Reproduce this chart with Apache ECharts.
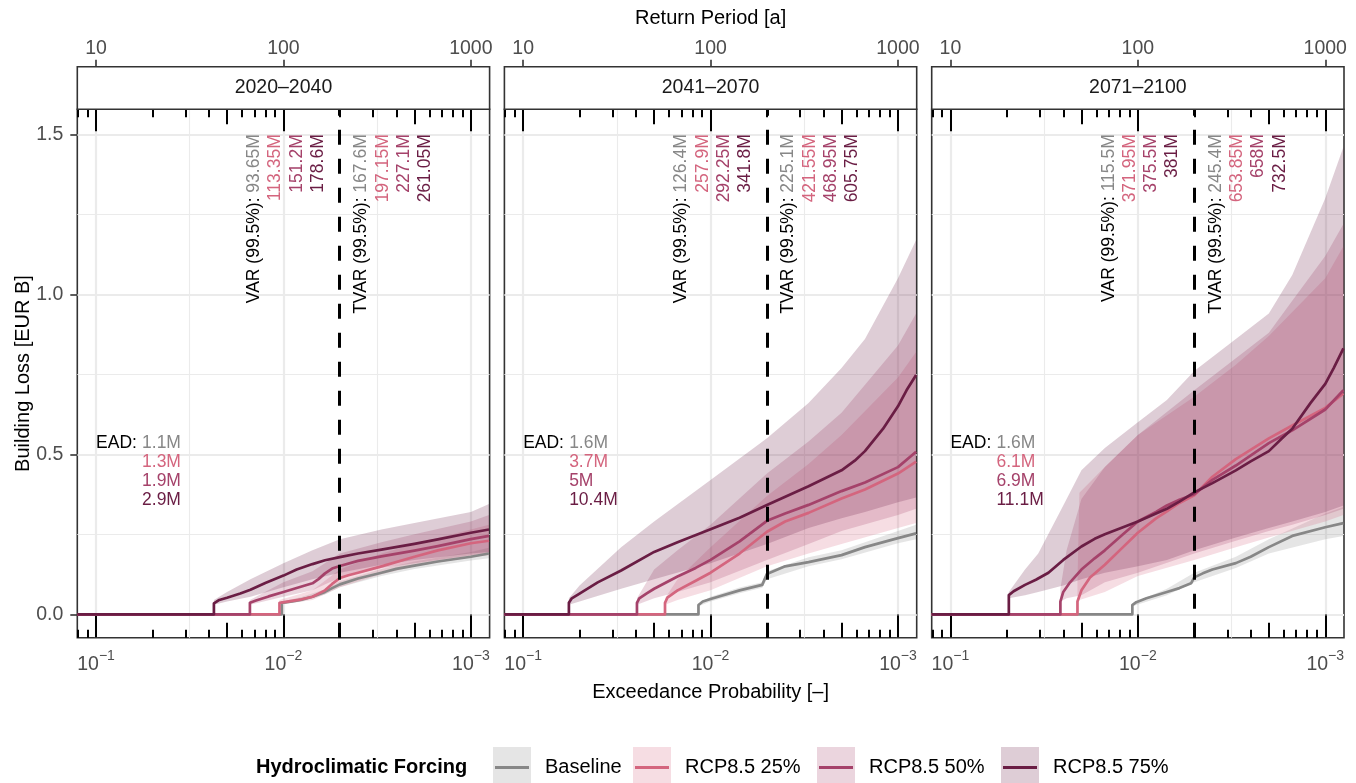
<!DOCTYPE html>
<html>
<head>
<meta charset="utf-8">
<title>Building loss exceedance curves</title>
<script src="https://cdn.jsdelivr.net/npm/echarts@6/dist/echarts.min.js"></script>
<style>
  html, body { margin: 0; padding: 0; background: #ffffff; }
  #chart { width: 1356px; height: 783px; }
</style>
</head>
<body>
<div id="chart"></div>
<script>
// ---------------- data ----------------
const periods = ['2020–2040', '2041–2070', '2071–2100'];
const scenarios = ['Baseline', 'RCP8.5 25%', 'RCP8.5 50%', 'RCP8.5 75%'];

// tick positions
const probTicks = [0.1, 0.01, 0.001];            // exceedance probability labels
const returnPeriodTicks = [10, 100, 1000];        // return period labels [a]
const logTicksMajor = [10, 100, 1000];
const logTicksMid = [50, 500];
const logTicksMinor = [8, 9, 20, 30, 40, 60, 70, 80, 90, 200, 300, 400, 600, 700, 800, 900];
const lossTicks = [0, 0.5, 1.0, 1.5];
const lossMinor = [0.25, 0.75, 1.25];
const probMinor = [0.0316228, 0.00316228];
const varProb = 0.005;                            // 99.5% level

// summary statistics [million EUR], order: Baseline, 25%, 50%, 75%
const eadVals = [[1.1, 1.3, 1.9, 2.9], [1.6, 3.7, 5, 10.4], [1.6, 6.1, 6.9, 11.1]];
const varVals = [[93.65, 113.35, 151.2, 178.6], [126.4, 257.9, 292.25, 341.8], [115.5, 371.95, 375.5, 381]];
const tvarVals = [[167.6, 197.15, 227.1, 261.05], [225.1, 421.55, 468.95, 605.75], [245.4, 653.85, 658, 732.5]];

// loss curves [exceedance probability, loss in EUR B]
const lossA_base = [[0.126,0],[0.0102,0],[0.0102,0.036],[0.009,0.04],[0.008,0.046],[0.007,0.055],[0.006,0.07],[0.0055,0.082],[0.005,0.09365],[0.004,0.112],[0.003,0.13],[0.0025,0.142],[0.002,0.152],[0.0015,0.165],[0.001,0.18],[0.0008,0.19]];
const lossA_r25 = [[0.126,0],[0.0105,0],[0.0105,0.036],[0.009,0.042],[0.008,0.047],[0.007,0.055],[0.006,0.075],[0.0055,0.095],[0.005,0.11335],[0.0045,0.122],[0.004,0.13],[0.003,0.15],[0.002,0.18],[0.0015,0.2],[0.001,0.222],[0.0008,0.23]];
const lossA_r50 = [[0.126,0],[0.0151,0],[0.0151,0.036],[0.014,0.043],[0.012,0.056],[0.01,0.07],[0.008,0.087],[0.007,0.097],[0.0065,0.11],[0.006,0.128],[0.0055,0.143],[0.005,0.1512],[0.004,0.167],[0.003,0.181],[0.002,0.199],[0.0015,0.213],[0.001,0.235],[0.0008,0.245]];
const lossA_r75 = [[0.126,0],[0.0235,0],[0.0235,0.034],[0.022,0.045],[0.02,0.052],[0.017,0.065],[0.015,0.077],[0.0125,0.098],[0.01,0.121],[0.0085,0.14],[0.007,0.157],[0.006,0.169],[0.005,0.1786],[0.004,0.19],[0.003,0.202],[0.002,0.22],[0.0015,0.234],[0.001,0.255],[0.0008,0.265]];

const lossB_base = [[0.126,0],[0.0116,0],[0.0116,0.029],[0.011,0.04],[0.01,0.048],[0.007,0.075],[0.0053,0.092],[0.005,0.1264],[0.004,0.15],[0.003,0.163],[0.002,0.185],[0.0015,0.21],[0.001,0.238],[0.0008,0.253]];
const lossB_r25 = [[0.126,0],[0.0175,0],[0.0175,0.036],[0.017,0.052],[0.015,0.075],[0.012,0.105],[0.01,0.13],[0.007,0.19],[0.005,0.2579],[0.004,0.29],[0.003,0.317],[0.002,0.362],[0.0015,0.39],[0.001,0.44],[0.0008,0.477]];
const lossB_r50 = [[0.126,0],[0.0247,0],[0.0247,0.036],[0.024,0.05],[0.022,0.065],[0.02,0.08],[0.015,0.118],[0.012,0.145],[0.01,0.17],[0.007,0.228],[0.005,0.29225],[0.004,0.315],[0.003,0.342],[0.002,0.385],[0.0015,0.412],[0.001,0.46],[0.0008,0.508]];
const lossB_r75 = [[0.126,0],[0.057,0],[0.057,0.036],[0.055,0.05],[0.05,0.065],[0.04,0.1],[0.03,0.137],[0.02,0.195],[0.015,0.225],[0.01,0.266],[0.007,0.302],[0.005,0.3418],[0.003,0.4],[0.002,0.45],[0.0017,0.48],[0.0015,0.51],[0.0012,0.58],[0.001,0.65],[0.0009,0.7],[0.0008,0.748]];

const lossC_base = [[0.126,0],[0.0107,0],[0.0107,0.029],[0.0102,0.038],[0.009,0.05],[0.007,0.07],[0.006,0.082],[0.0052,0.097],[0.005,0.1155],[0.0045,0.128],[0.004,0.14],[0.003,0.16],[0.0025,0.18],[0.002,0.21],[0.0015,0.245],[0.001,0.272],[0.0008,0.285]];
const lossC_r25 = [[0.126,0],[0.021,0],[0.021,0.04],[0.02,0.075],[0.018,0.115],[0.015,0.155],[0.012,0.21],[0.01,0.255],[0.008,0.3],[0.007,0.322],[0.006,0.348],[0.005,0.37195],[0.004,0.43],[0.003,0.485],[0.002,0.55],[0.0015,0.59],[0.001,0.645],[0.0008,0.69]];
const lossC_r50 = [[0.126,0],[0.0259,0],[0.0259,0.04],[0.025,0.07],[0.023,0.1],[0.02,0.14],[0.017,0.175],[0.015,0.2],[0.012,0.25],[0.01,0.29],[0.008,0.32],[0.007,0.34],[0.006,0.358],[0.005,0.3755],[0.004,0.42],[0.003,0.465],[0.002,0.535],[0.0015,0.575],[0.001,0.64],[0.0008,0.7]];
const lossC_r75 = [[0.126,0],[0.0488,0],[0.0488,0.06],[0.046,0.072],[0.04,0.092],[0.035,0.108],[0.03,0.13],[0.025,0.17],[0.02,0.212],[0.017,0.236],[0.015,0.25],[0.012,0.272],[0.01,0.29],[0.008,0.315],[0.007,0.33],[0.006,0.352],[0.005,0.381],[0.004,0.41],[0.003,0.45],[0.0025,0.478],[0.002,0.51],[0.0017,0.55],[0.0015,0.58],[0.0012,0.66],[0.001,0.72],[0.0009,0.77],[0.0008,0.831]];

// uncertainty bands [exceedance probability, lower, upper]
const bandA_base = [[0.0102,0.032,0.04],[0.008,0.04,0.054],[0.006,0.062,0.078],[0.005,0.085,0.103],[0.003,0.12,0.142],[0.002,0.142,0.165],[0.001,0.168,0.195],[0.0008,0.175,0.208]];
const bandA_r25 = [[0.0105,0.03,0.045],[0.007,0.045,0.075],[0.005,0.085,0.14],[0.003,0.125,0.19],[0.002,0.15,0.22],[0.001,0.178,0.265],[0.0008,0.185,0.28]];
const bandA_r50 = [[0.0151,0.03,0.045],[0.01,0.055,0.1],[0.007,0.075,0.135],[0.005,0.115,0.19],[0.003,0.145,0.225],[0.002,0.16,0.25],[0.001,0.185,0.29],[0.0008,0.19,0.31]];
const bandA_r75 = [[0.0235,0.03,0.045],[0.02,0.04,0.07],[0.015,0.055,0.11],[0.01,0.085,0.16],[0.007,0.11,0.2],[0.005,0.13,0.235],[0.003,0.155,0.265],[0.002,0.17,0.285],[0.001,0.19,0.32],[0.0008,0.195,0.345]];

const bandB_base = [[0.0116,0.025,0.033],[0.01,0.04,0.055],[0.007,0.066,0.084],[0.0053,0.083,0.1],[0.005,0.11,0.135],[0.003,0.15,0.178],[0.002,0.172,0.2],[0.001,0.222,0.26],[0.0008,0.235,0.28]];
const bandB_r25 = [[0.0175,0.03,0.05],[0.015,0.045,0.11],[0.01,0.075,0.21],[0.005,0.15,0.37],[0.003,0.19,0.47],[0.002,0.22,0.56],[0.001,0.27,0.74],[0.0008,0.285,0.82]];
const bandB_r50 = [[0.0247,0.03,0.05],[0.02,0.05,0.14],[0.015,0.07,0.2],[0.01,0.1,0.28],[0.005,0.17,0.44],[0.003,0.22,0.54],[0.002,0.26,0.63],[0.001,0.31,0.84],[0.0008,0.33,0.94]];
const bandB_r75 = [[0.057,0.03,0.05],[0.05,0.04,0.09],[0.03,0.08,0.21],[0.02,0.11,0.29],[0.01,0.16,0.42],[0.005,0.22,0.55],[0.003,0.27,0.66],[0.002,0.3,0.77],[0.0015,0.32,0.86],[0.001,0.35,1.05],[0.0008,0.365,1.17]];

const bandC_base = [[0.0107,0.025,0.035],[0.007,0.06,0.08],[0.005,0.1,0.13],[0.003,0.145,0.18],[0.002,0.19,0.235],[0.001,0.235,0.315],[0.0008,0.245,0.335]];
const bandC_r25 = [[0.021,0.04,0.1],[0.0205,0.045,0.38],[0.015,0.07,0.46],[0.01,0.12,0.56],[0.005,0.17,0.68],[0.003,0.21,0.78],[0.002,0.24,0.87],[0.001,0.29,1.05],[0.0008,0.31,1.15]];
const bandC_r50 = [[0.0259,0.04,0.08],[0.024,0.05,0.2],[0.02,0.06,0.36],[0.015,0.1,0.46],[0.01,0.13,0.56],[0.005,0.19,0.7],[0.003,0.23,0.8],[0.002,0.26,0.88],[0.0015,0.28,0.98],[0.001,0.31,1.12],[0.0008,0.33,1.22]];
const bandC_r75 = [[0.0488,0.05,0.07],[0.04,0.06,0.14],[0.034,0.07,0.19],[0.025,0.09,0.34],[0.02,0.11,0.45],[0.015,0.13,0.52],[0.01,0.15,0.6],[0.007,0.17,0.67],[0.005,0.2,0.76],[0.003,0.24,0.86],[0.002,0.27,0.94],[0.0015,0.29,1.06],[0.001,0.32,1.3],[0.0008,0.34,1.46]];

const panelLines = [
  [lossA_base, lossA_r25, lossA_r50, lossA_r75],
  [lossB_base, lossB_r25, lossB_r50, lossB_r75],
  [lossC_base, lossC_r25, lossC_r50, lossC_r75]
];
const panelBands = [
  [bandA_base, bandA_r25, bandA_r50, bandA_r75],
  [bandB_base, bandB_r25, bandB_r50, bandB_r75],
  [bandC_base, bandC_r25, bandC_r50, bandC_r75]
];

// ---------------- styling / layout ----------------
const lineColors = ['#878787', '#D4657E', '#A5426A', '#6A1D44'];
const bandColors = ['rgba(135,135,135,0.22)', 'rgba(212,101,126,0.22)', 'rgba(165,66,106,0.22)', 'rgba(106,29,68,0.22)'];
const FONT = '"Liberation Sans", Arial, Helvetica, sans-serif';
const GRID_LEFT = [77.3, 504.4, 931.7];
const GRID_TOP = 109.3, GRID_W = 412.3, GRID_H = 528.4, STRIP_H = 42.6;
const X_MIN = 0.9, X_MAX = 3.1;      // -log10(probability)
const Y_MIN = -0.073, Y_MAX = 1.578;
const X_PER_GRID = 9, Y_PER_GRID = 2;

const toX = p => -Math.log10(p);
const fromPeriod = T => toX(1 / T);

const chart = echarts.init(document.getElementById('chart'), null, { renderer: 'canvas' });

const grids = GRID_LEFT.map(l => ({
  left: l, top: GRID_TOP, width: GRID_W, height: GRID_H,
  show: true, borderColor: '#333333', borderWidth: 1.6, backgroundColor: 'transparent',
  containLabel: false, outerBoundsMode: 'none'
}));

const xAxes = [], yAxes = [];
const tickLine = { color: '#333333', width: 1.6 };
const logLine = { color: '#000000', width: 2 };

GRID_LEFT.forEach((_, i) => {
  const common = {
    gridIndex: i, type: 'value', min: X_MIN, max: X_MAX, silent: true,
    axisLine: { show: false }, axisLabel: { show: false },
    axisTick: { show: false }, splitLine: { show: false }
  };
  // bottom: probability labels, outer ticks, major vertical grid
  xAxes.push(Object.assign({}, common, {
    position: 'bottom',
    axisTick: { show: true, inside: false, length: 7, customValues: probTicks.map(toX), lineStyle: tickLine },
    axisLabel: {
      show: true, customValues: probTicks.map(toX), margin: 11,
      formatter: v => '{b|10}{s|−' + Math.round(v) + '}',
      rich: {
        b: { fontSize: 19.5, color: '#4D4D4D', fontFamily: FONT, lineHeight: 26, verticalAlign: 'bottom' },
        s: { fontSize: 14, color: '#4D4D4D', fontFamily: FONT, lineHeight: 26, verticalAlign: 'top' }
      }
    },
    splitLine: { show: true, lineStyle: { color: '#EBEBEB', width: 2.2 } }
  }));
  // minor vertical grid
  xAxes.push(Object.assign({}, common, {
    position: 'bottom',
    axisTick: { show: false, customValues: probMinor.map(toX) },
    splitLine: { show: true, lineStyle: { color: '#EBEBEB', width: 1.1 } }
  }));
  // bottom log ticks (inside)
  [[logTicksMajor, 22], [logTicksMid, 15], [logTicksMinor, 8]].forEach(([vals, len]) => {
    xAxes.push(Object.assign({}, common, {
      position: 'bottom',
      axisTick: { show: true, inside: true, length: len, customValues: vals.map(fromPeriod), lineStyle: logLine }
    }));
  });
  // top: return period labels above the strip
  xAxes.push(Object.assign({}, common, {
    position: 'top', offset: STRIP_H,
    axisTick: { show: true, inside: false, length: 7, customValues: returnPeriodTicks.map(fromPeriod), lineStyle: tickLine },
    axisLabel: {
      show: true, customValues: returnPeriodTicks.map(fromPeriod), margin: 8,
      formatter: v => String(returnPeriodTicks[Math.round(v) - 1]),
      color: '#4D4D4D', fontSize: 19.5, fontFamily: FONT
    }
  }));
  // top log ticks (inside)
  [[logTicksMajor, 22], [logTicksMid, 15], [logTicksMinor, 8]].forEach(([vals, len]) => {
    xAxes.push(Object.assign({}, common, {
      position: 'top',
      axisTick: { show: true, inside: true, length: len, customValues: vals.map(fromPeriod), lineStyle: logLine }
    }));
  });

  yAxes.push({
    gridIndex: i, type: 'value', min: Y_MIN, max: Y_MAX, position: 'left', silent: true,
    axisLine: { show: false },
    axisTick: { show: i === 0, inside: false, length: 7, customValues: lossTicks, lineStyle: tickLine },
    axisLabel: {
      show: i === 0, customValues: lossTicks, margin: 14,
      formatter: v => v.toFixed(1), color: '#4D4D4D', fontSize: 19.5, fontFamily: FONT
    },
    splitLine: { show: true, lineStyle: { color: '#EBEBEB', width: 2.2 } }
  });
  yAxes.push({
    gridIndex: i, type: 'value', min: Y_MIN, max: Y_MAX, position: 'left', silent: true,
    axisLine: { show: false }, axisLabel: { show: false },
    axisTick: { show: false, customValues: lossMinor },
    splitLine: { show: true, lineStyle: { color: '#EBEBEB', width: 1.1 } }
  });
});

// ribbon drawn as one polygon through the cartesian coordinate system
function ribbonSeries(xi, yi, band, color) {
  const rows = band.map(r => [toX(r[0]), r[1], r[2]]);
  return {
    type: 'custom', coordinateSystem: 'cartesian2d', xAxisIndex: xi, yAxisIndex: yi,
    data: rows, silent: true, clip: true, z: 2,
    renderItem: (params, api) => {
      if (params.dataIndex !== 0) return null;
      const pts = [];
      rows.forEach(r => pts.push(api.coord([r[0], r[1]])));
      for (let k = rows.length - 1; k >= 0; k--) pts.push(api.coord([rows[k][0], rows[k][2]]));
      return { type: 'polygon', shape: { points: pts }, style: { fill: color, stroke: null } };
    }
  };
}

const series = [];
GRID_LEFT.forEach((_, i) => {
  const xi = i * X_PER_GRID, yi = i * Y_PER_GRID;
  panelBands[i].forEach((b, s) => series.push(ribbonSeries(xi, yi, b, bandColors[s])));
  panelLines[i].forEach((l, s) => {
    const ser = {
      type: 'line', name: scenarios[s], xAxisIndex: xi, yAxisIndex: yi,
      data: l.map(r => [toX(r[0]), r[1]]),
      symbol: 'none', showSymbol: false, smooth: false, clip: true, silent: true, z: 3,
      lineStyle: { color: lineColors[s], width: 2.7, join: 'round', cap: 'butt' },
      itemStyle: { color: lineColors[s] }
    };
    if (s === panelLines[i].length - 1) {
      ser.markLine = {
        silent: true, symbol: ['none', 'none'], label: { show: false },
        lineStyle: { color: '#000000', width: 3, type: [15, 14] },
        emphasis: { disabled: true },
        data: [{ xAxis: toX(varProb) }]
      };
    }
    series.push(ser);
  });
});

chart.setOption({
  animation: false,
  backgroundColor: '#ffffff',
  grid: grids,
  xAxis: xAxes,
  yAxis: yAxes,
  series: series
});

// ---------------- annotations, strips, titles, legend ----------------
const gfx = [];
const txt = (o) => Object.assign({ fontFamily: FONT }, o);

GRID_LEFT.forEach((l, i) => {
  gfx.push({ type: 'rect', z: 10, silent: true,
    shape: { x: l, y: GRID_TOP - STRIP_H, width: GRID_W, height: STRIP_H },
    style: { fill: '#ffffff', stroke: '#333333', lineWidth: 1.6 } });
  gfx.push({ type: 'text', z: 11, silent: true, x: l + GRID_W / 2, y: GRID_TOP - STRIP_H / 2,
    style: txt({ text: periods[i], fill: '#1A1A1A', fontSize: 19.5, align: 'center', verticalAlign: 'middle' }) });

  const finder = { xAxisIndex: i * X_PER_GRID, yAxisIndex: i * Y_PER_GRID };
  const rich = { k: txt({ fill: '#000000', fontSize: 17.5, lineHeight: 21.3 }) };
  lineColors.forEach((c, s) => { rich['c' + s] = txt({ fill: c, fontSize: 17.5, lineHeight: 21.3 }); });

  const dash = chart.convertToPixel(finder, [toX(varProb), 1.5]);
  const block = (label, vals) => '{k|' + label + ' }{c0|' + vals[0] + 'M}\n' +
    vals.slice(1).map((v, s) => '{c' + (s + 1) + '|' + v + 'M}').join('\n');
  gfx.push({ type: 'text', z: 12, silent: true, x: dash[0] - 11, y: dash[1], rotation: Math.PI / 2,
    style: txt({ text: block('VAR (99.5%):', varVals[i]), rich: rich, fontSize: 17.5, lineHeight: 21.3,
      align: 'right', verticalAlign: 'bottom' }) });
  gfx.push({ type: 'text', z: 12, silent: true, x: dash[0] + 11, y: dash[1], rotation: Math.PI / 2,
    style: txt({ text: block('TVAR (99.5%):', tvarVals[i]), rich: rich, fontSize: 17.5, lineHeight: 21.3,
      align: 'right', verticalAlign: 'top' }) });

  const ead = chart.convertToPixel(finder, [toX(0.1), 0.536]);
  const richE = {};
  lineColors.forEach((c, s) => { richE['c' + s] = txt({ fill: c, fontSize: 17.5, lineHeight: 19 }); });
  gfx.push({ type: 'text', z: 12, silent: true, x: ead[0], y: ead[1],
    style: txt({ text: 'EAD:', fill: '#000000', fontSize: 17.5, align: 'left', verticalAlign: 'middle' }) });
  gfx.push({ type: 'text', z: 12, silent: true, x: ead[0] + 46, y: ead[1] - 9.5,
    style: txt({ text: eadVals[i].map((v, s) => '{c' + s + '|' + v + 'M}').join('\n'), rich: richE,
      fontSize: 17.5, lineHeight: 19, align: 'left', verticalAlign: 'top' }) });
});

const plotMid = (GRID_LEFT[0] + GRID_LEFT[2] + GRID_W) / 2;
gfx.push({ type: 'text', silent: true, x: plotMid, y: 18,
  style: txt({ text: 'Return Period [a]', fill: '#000000', fontSize: 20, align: 'center', verticalAlign: 'middle' }) });
gfx.push({ type: 'text', silent: true, x: plotMid, y: 692,
  style: txt({ text: 'Exceedance Probability [–]', fill: '#000000', fontSize: 20, align: 'center', verticalAlign: 'middle' }) });
gfx.push({ type: 'text', silent: true, x: 23, y: GRID_TOP + GRID_H / 2, rotation: Math.PI / 2,
  style: txt({ text: 'Building Loss [EUR B]', fill: '#000000', fontSize: 20, align: 'center', verticalAlign: 'middle' }) });

// legend
const LEG_Y = 767.5;
const keyX = [493, 633, 817, 1001];
gfx.push({ type: 'text', silent: true, x: 256, y: LEG_Y,
  style: txt({ text: 'Hydroclimatic Forcing', fill: '#000000', fontSize: 20, fontWeight: 'bold', align: 'left', verticalAlign: 'middle' }) });
scenarios.forEach((name, s) => {
  gfx.push({ type: 'rect', silent: true, shape: { x: keyX[s], y: LEG_Y - 20.5, width: 38, height: 41 },
    style: { fill: bandColors[s] } });
  gfx.push({ type: 'line', silent: true, shape: { x1: keyX[s] + 2, y1: LEG_Y, x2: keyX[s] + 36, y2: LEG_Y },
    style: { stroke: lineColors[s], lineWidth: 3 } });
  gfx.push({ type: 'text', silent: true, x: keyX[s] + 52, y: LEG_Y,
    style: txt({ text: name, fill: '#000000', fontSize: 20, align: 'left', verticalAlign: 'middle' }) });
});

chart.setOption({ graphic: gfx });
</script>
</body>
</html>
